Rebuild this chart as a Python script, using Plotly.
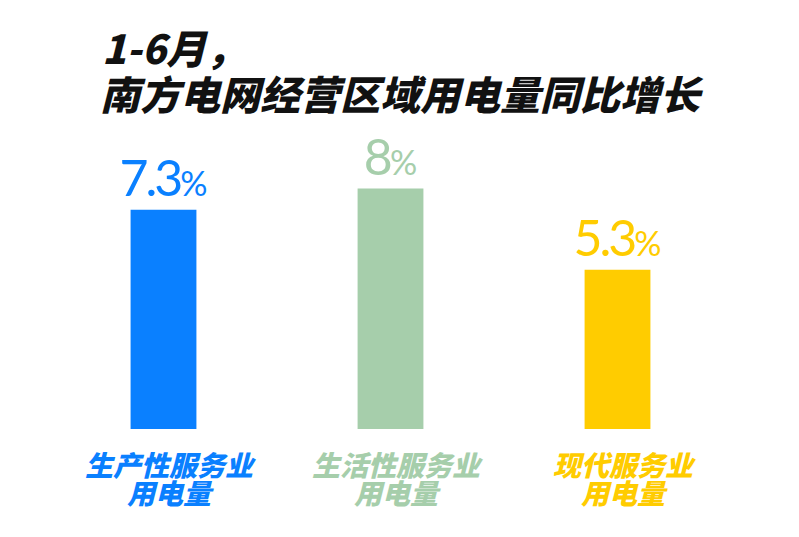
import plotly.graph_objects as go

categories = ["生产性服务业<br>用电量", "生活性服务业<br>用电量", "现代服务业<br>用电量"]
values = [7.3, 8, 5.3]
colors = ["#0A80FF", "#A6CEAB", "#FFCC00"]
title_line1 = "1-6月，"
title_line2 = "南方电网经营区域用电量同比增长"

x_idx = list(range(len(categories)))
texts = [f"<span style='letter-spacing:-3px'>{v:g}</span><span style='font-size:34px'>%</span>" for v in values]

fig = go.Figure()
fig.add_trace(go.Bar(
    x=x_idx, y=values,
    marker=dict(color=colors, line=dict(width=0)),
    width=0.29,
    text=texts,
    textposition="outside",
    constraintext="none",
    cliponaxis=False,
    textfont=dict(family="Lato", size=50, color=colors),
    hoverinfo="skip",
))

label_font = dict(family="Noto Sans CJK SC", size=28, weight=900, style="italic")
annotations = []
for i, (c, col) in enumerate(zip(categories, colors)):
    for j, line in enumerate(c.split("<br>")):
        annotations.append(dict(
            x=i, y=0, xref="x", yref="y", text=line, showarrow=False,
            yanchor="middle", yshift=-35 - 28 * j, xshift=7,
            font=dict(label_font, color=col),
        ))

title_font = dict(family="Noto Sans CJK SC", size=40, color="#111111", weight=900, style="italic")
annotations.append(dict(
    x=0.0734, y=1.2776, xref="paper", yref="paper", text=title_line1, showarrow=False,
    xanchor="left", yanchor="middle", font=title_font,
))
annotations.append(dict(
    x=0.0705, y=1.1237, xref="paper", yref="paper", text=title_line2, showarrow=False,
    xanchor="left", yanchor="middle", font=title_font,
))

fig.update_layout(
    width=799, height=537,
    margin=dict(l=42, r=76, t=122, b=116, autoexpand=False),
    paper_bgcolor="white", plot_bgcolor="white",
    showlegend=False,
    xaxis=dict(range=[-0.5, 2.5], visible=False, fixedrange=True),
    yaxis=dict(range=[0, 9.95], visible=False, fixedrange=True),
    annotations=annotations,
)

fig.write_html("out.html")
